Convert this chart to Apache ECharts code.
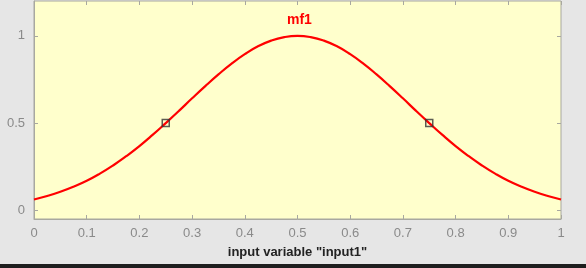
<!DOCTYPE html>
<html><head><meta charset="utf-8">
<script src="https://cdn.jsdelivr.net/npm/echarts@6/dist/echarts.min.js"></script>
<style>html,body{margin:0;padding:0;background:#e6e6e6}#c{width:586px;height:268px}</style>
</head><body><div id="c"></div>
<script>
const xValues = [0,0.025,0.05,0.075,0.1,0.125,0.15,0.175,0.2,0.225,0.25,0.275,0.3,0.325,0.35,0.375,0.4,0.425,0.45,0.475,0.5,0.525,0.55,0.575,0.6,0.625,0.65,0.675,0.7,0.725,0.75,0.775,0.8,0.825,0.85,0.875,0.9,0.925,0.95,0.975,1];
const mf1Values = [0.062,0.082,0.106,0.135,0.169,0.210,0.257,0.310,0.368,0.432,0.500,0.570,0.642,0.712,0.779,0.841,0.895,0.940,0.973,0.993,1.000,0.993,0.973,0.940,0.895,0.841,0.779,0.712,0.642,0.570,0.500,0.432,0.368,0.310,0.257,0.210,0.169,0.135,0.106,0.082,0.062];
const markerX = [0.25, 0.75];
const markerY = [0.5, 0.5];
const yTicks = [0, 0.5, 1];
const xTickLabels = ['0','0.1','0.2','0.3','0.4','0.5','0.6','0.7','0.8','0.9','1'];

const chart = echarts.init(document.getElementById('c'));
const axisCol = '#a8a8a0';
const labelCol = '#8a8a8a';
chart.setOption({
  animation: false,
  backgroundColor: '#e6e6e6',
  title: { text: 'mf1', left: 282, top: 8, textStyle: { color: '#ff0000', fontSize: 14, fontWeight: 'bold', fontFamily: 'Liberation Sans' } },
  grid: { left: 34, right: 25, top: 1, bottom: 49, show: true, backgroundColor: '#ffffcc', borderColor: axisCol, borderWidth: 1 },
  xAxis: [{
    type: 'value', min: 0, max: 1, interval: 0.1,
    name: 'input variable "input1"', nameLocation: 'middle', nameGap: 27,
    nameTextStyle: { color: '#222', fontSize: 13, fontWeight: 'bold', fontFamily: 'Liberation Sans' },
    axisLine: { show: true, onZero: false, lineStyle: { color: axisCol } },
    axisTick: { show: true, inside: true, length: 4, lineStyle: { color: axisCol } },
    axisLabel: { color: labelCol, fontSize: 13, margin: 8, fontFamily: 'Liberation Sans', formatter: (v) => xTickLabels[Math.round(v * 10)] },
    splitLine: { show: false }
  }, {
    type: 'value', position: 'top', min: 0, max: 1, interval: 0.1,
    axisLine: { show: false, onZero: false },
    axisTick: { show: true, inside: true, length: 4, lineStyle: { color: axisCol } },
    axisLabel: { show: false }, splitLine: { show: false }
  }],
  yAxis: [{
    type: 'value', min: -0.05, max: 1.2,
    axisLine: { show: true, onZero: false, lineStyle: { color: axisCol } },
    axisTick: { show: true, inside: true, length: 4, customValues: yTicks, lineStyle: { color: axisCol } },
    axisLabel: { color: labelCol, fontSize: 13, margin: 9, fontFamily: 'Liberation Sans', customValues: yTicks, formatter: (v) => String(v) },
    splitLine: { show: false }
  }, {
    type: 'value', position: 'right', min: -0.05, max: 1.2,
    axisLine: { show: false, onZero: false },
    axisTick: { show: true, inside: true, length: 4, customValues: yTicks, lineStyle: { color: axisCol } },
    axisLabel: { show: false, customValues: yTicks }, splitLine: { show: false }
  }],
  series: [{
    type: 'line', data: xValues.map((x, i) => [x, mf1Values[i]]),
    smooth: true, showSymbol: false, lineStyle: { color: '#ff0000', width: 2.2 }
  }, {
    type: 'scatter', data: markerX.map((x, i) => [x, markerY[i]]),
    symbol: 'rect', symbolSize: 7,
    itemStyle: { color: 'rgba(0,0,0,0)', borderColor: '#333', borderWidth: 1.5 }, z: 5
  }],
  graphic: [{ type: 'rect', shape: { x: 0, y: 264, width: 586, height: 4 }, style: { fill: '#1e1e1e' } }]
});
</script></body></html>
